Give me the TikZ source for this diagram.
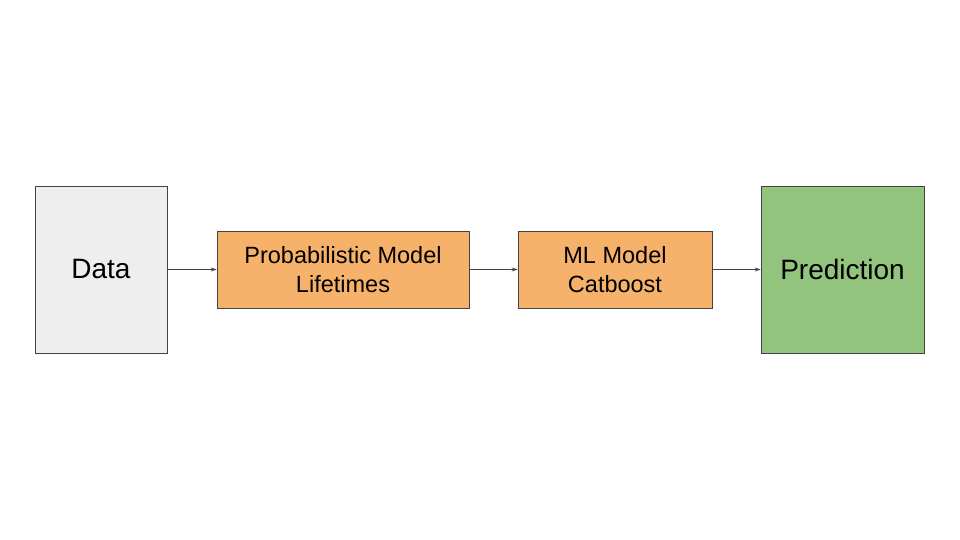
\documentclass[tikz,border=0pt]{standalone}
\usepackage{fontspec}
\setmainfont{Liberation Sans}
\usetikzlibrary{arrows.meta}
\definecolor{datagray}{HTML}{EEEEEE}
\definecolor{orangebox}{HTML}{F6B26B}
\definecolor{greenbox}{HTML}{93C47D}
\definecolor{edgegray}{HTML}{434343}
\tikzset{
  box/.style={draw=edgegray, line width=0.8pt, inner sep=0pt, align=center},
  bigtext/.style={font=\fontsize{28}{33}\selectfont},
  smalltext/.style={font=\fontsize{23.5}{29}\selectfont},
  conn/.style={draw=edgegray, line width=0.8pt, -{Stealth[length=6pt,width=4pt]}}
}
\begin{document}
\begin{tikzpicture}[x=1pt,y=-1pt]
\useasboundingbox[fill=white] (0,0) rectangle (960,540);
\node[box, bigtext, fill=datagray, minimum width=132pt, minimum height=167pt] (data) at (101,269.5) {Data};
\node[box, smalltext, fill=orangebox, minimum width=252pt, minimum height=77pt] (prob) at (343,269.5) {Probabilistic Model\\Lifetimes};
\node[box, smalltext, fill=orangebox, minimum width=194pt, minimum height=77pt] (ml) at (615,269.5) {ML Model\\Catboost};
\node[box, bigtext, fill=greenbox, minimum width=163pt, minimum height=167pt] (pred) at (842.5,269.5) {Prediction};
\draw[conn] (data) -- (prob);
\draw[conn] (prob) -- (ml);
\draw[conn] (ml) -- (pred);
\end{tikzpicture}
\end{document}
